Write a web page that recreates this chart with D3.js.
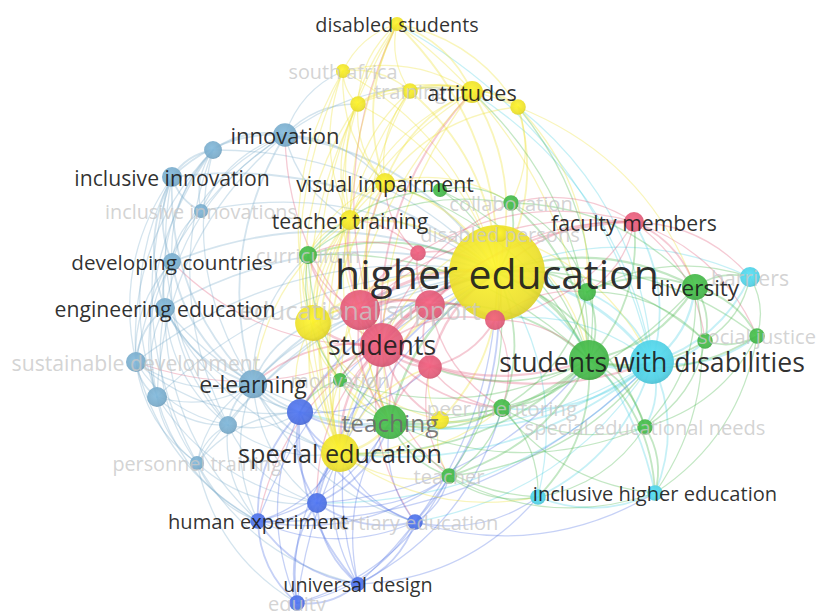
<!DOCTYPE html>
<html>
<head>
<meta charset="utf-8">
<script src="https://cdn.jsdelivr.net/npm/d3@7"></script>
<style>
  html, body { margin: 0; padding: 0; background: #ffffff; }
  svg { display: block; }
  text { font-family: "Open Sans", "Noto Sans", sans-serif; }
</style>
</head>
<body>
<svg id="chart" width="817" height="611"></svg>
<script>
// ---------------- DATA ----------------
const labels = [
  "higher education", "students with disabilities", "", "students", "educational support",
  "", "", "", "", "faculty members",
  "diversity", "teaching", "special education", "e-learning", "",
  "engineering education", "developing countries", "inclusive innovation", "innovation", "",
  "inclusive innovations", "sustainable development", "", "", "personnel training",
  "human experiment", "", "tertiary education", "universal design", "equity",
  "disabled students", "south africa", "training", "attitudes", "",
  "", "visual impairment", "teacher training", "", "",
  "", "collaboration", "curriculum", "motivation", "peer mentoring",
  "special educational needs", "teacher", "social justice", "", "",
  "barriers", "inclusive higher education", "", "disabled persons"
];
// cluster: Y yellow, C cyan, G green, R red, B blue, S steel blue
const clusters = [
  "Y","C","G","R","R", "R","R","R","R","R",
  "G","G","Y","S","B", "S","S","S","S","S",
  "S","S","S","S","S", "B","B","B","B","B",
  "Y","Y","Y","Y","Y", "Y","Y","Y","Y","Y",
  "G","G","G","G","G", "G","G","G","G","G",
  "C","C","C","Y"
];
// layout coordinates (map units)
const coordX = [
  497,652,589,382,360, 430,430,495,418,634,
  695,390,340,253,300, 165,172,172,285,213,
  201,136,157,228,197, 258,317,415,358,297,
  397,343,410,472,518, 358,385,350,313,440,
  440,511,308,340,502, 645,449,757,705,587,
  750,655,538,500
];
const coordY = [
  273,362,360,345,310, 305,367,320,253,222,
  287,422,453,384,412, 308,262,177,135,150,
  211,362,397,425,463, 521,503,522,584,603,
  24,71,91,92,107, 104,183,220,323,420,
  190,203,255,380,408, 427,476,336,341,292,
  277,493,497,234
];
// occurrences
const weights = [
  230,48,40,48,40, 22,14,10,6,10,
  17,29,36,20,17, 10,8,10,14,8,
  5,10,10,8,5, 6,10,6,5,6,
  5,5,6,12,6, 6,10,10,32,8,
  5,6,8,5,8, 6,6,6,6,8,
  10,6,6,6
];
// label emphasis: 0 = highlighted, 1 = medium, 2 = dimmed
const labelEmphasis = [
  0,0,2,0,2, 2,2,2,2,0,
  0,1,0,0,2, 0,0,0,0,2,
  2,2,2,2,2, 0,2,2,0,2,
  0,2,2,0,2, 2,0,0,2,2,
  2,2,2,2,2, 2,2,2,2,2,
  2,0,2,2
];
// co-occurrence links [source, target, strength]
const links = [
  // links to "higher education"
  [1,0,4],[2,0,4],[3,0,5],[4,0,4],[5,0,3],[6,0,3],[7,0,2],[8,0,2],[9,0,2],[10,0,3],
  [11,0,3],[12,0,3],[13,0,2],[14,0,2],[15,0,2],[16,0,2],[17,0,2],[18,0,2],[19,0,1],[20,0,1],
  [21,0,1],[22,0,1],[23,0,1],[24,0,1],[25,0,1],[26,0,2],[27,0,2],[28,0,1],[29,0,1],[30,0,2],
  [31,0,1],[32,0,2],[33,0,2],[34,0,2],[35,0,1],[36,0,2],[37,0,2],[38,0,3],[39,0,2],[40,0,1],
  [41,0,2],[42,0,2],[43,0,1],[44,0,2],[45,0,2],[46,0,1],[47,0,1],[48,0,1],[49,0,2],[50,0,1],
  [51,0,2],[52,0,1],[53,0,1],
  // students
  [3,1,3],[3,2,3],[3,4,4],[3,5,3],[3,6,3],[3,7,2],[3,8,2],[3,9,2],[3,11,3],[3,12,3],
  [3,13,2],[3,14,2],[3,16,1],[3,18,1],[3,26,1],[3,27,1],[3,33,2],[3,36,2],[3,37,2],[3,38,3],
  [3,39,2],[3,41,1],[3,42,2],[3,43,1],[3,44,2],[3,46,1],[3,30,1],[3,21,1],[3,25,1],
  // students with disabilities
  [1,2,4],[1,9,2],[1,10,3],[1,47,2],[1,48,2],[1,49,2],[1,50,2],[1,51,2],[1,52,2],[1,45,2],
  [1,44,2],[1,27,1],[1,12,2],[1,11,2],[1,7,1],[1,34,1],[1,33,1],[1,30,1],[1,14,1],[1,26,1],
  // green hub
  [2,10,3],[2,45,2],[2,47,2],[2,48,2],[2,49,2],[2,51,2],[2,52,2],[2,44,2],[2,11,3],[2,41,2],
  [2,40,1],[2,42,1],[2,43,1],[2,46,2],[2,12,2],[2,5,2],[2,6,2],[2,9,2],[2,33,1],[2,34,1],[2,36,1],
  // steel cluster
  [18,19,2],[18,17,2],[18,20,1],[18,16,1],[18,15,1],[18,13,2],[18,36,1],[18,37,1],[18,35,1],[18,31,1],
  [18,33,1],[18,21,1],[18,22,1],[19,17,2],[19,20,1],[19,16,1],[19,15,1],[19,13,1],[19,21,1],[19,22,1],
  [19,23,1],[17,20,2],[17,16,2],[17,15,2],[17,13,2],[17,21,1],[17,22,1],[17,23,1],[17,24,1],[16,15,2],
  [16,13,2],[16,21,1],[16,22,1],[16,23,1],[16,20,1],[15,13,2],[15,21,2],[15,22,1],[15,23,1],[15,24,1],
  [15,25,1],[15,12,1],[15,11,1],[15,14,1],[21,22,2],[21,23,1],[21,24,1],[21,13,1],[21,25,1],[21,14,1],
  [22,23,1],[22,24,1],[22,13,1],[22,25,1],[22,26,1],[23,24,1],[23,13,2],[23,14,1],[23,25,1],[23,26,1],
  [23,12,1],[24,25,1],[24,26,1],[24,14,1],[24,13,1],[24,29,1],[24,28,1],[13,14,2],[13,12,2],[13,11,2],
  [13,5,1],[13,26,1],[13,25,1],[13,27,1],[13,38,2],[13,42,1],
  // blue cluster
  [14,26,2],[14,25,2],[14,27,2],[14,28,2],[14,29,1],[14,12,2],[14,11,2],[14,6,1],[26,25,2],[26,27,2],
  [26,28,2],[26,29,2],[26,12,2],[26,11,2],[26,46,1],[25,27,1],[25,28,2],[25,29,2],[25,12,1],[25,11,1],
  [27,28,2],[27,29,1],[27,46,1],[27,11,1],[27,12,1],[27,52,1],[27,51,1],[28,29,2],[28,12,1],[28,11,1],
  [28,3,1],[29,12,1],[25,1,1],[26,2,1],[14,1,1],[28,52,1],[29,27,1],[28,44,1],[25,46,1],[29,46,1],
  // yellow cluster
  [30,31,1],[30,32,1],[30,33,2],[30,34,1],[30,35,1],[30,36,2],[30,37,1],[30,11,1],[30,12,1],[30,2,1],
  [31,32,1],[31,33,1],[31,35,1],[31,36,1],[31,37,1],[31,38,1],[31,12,1],[32,33,2],[32,34,1],[32,35,1],
  [32,36,1],[32,37,1],[32,12,1],[32,3,1],[33,34,2],[33,35,1],[33,36,2],[33,37,1],[33,12,1],[33,38,1],
  [33,11,1],[34,35,1],[34,36,1],[34,41,1],[34,10,1],[34,49,1],[35,36,1],[35,37,1],[35,38,1],[35,12,1],
  [35,3,1],[36,37,2],[36,38,1],[36,40,1],[36,41,1],[36,42,1],[36,12,2],[36,11,1],[37,38,2],[37,42,1],
  [37,12,2],[37,11,1],[37,4,1],[37,13,1],[38,12,2],[38,11,2],[38,4,2],[38,5,2],[38,14,1],[38,39,1],
  [38,42,1],[38,43,1],[12,11,3],[12,4,2],[12,5,2],[12,6,2],[12,39,1],[12,43,1],[12,44,1],[12,46,1],
  [12,27,1],[12,28,1],[12,52,1],[39,11,1],[39,44,1],[39,46,1],[39,6,1],[53,3,1],[53,2,1],[53,1,1],
  // red cluster
  [4,5,3],[4,6,2],[4,7,2],[4,8,2],[4,9,1],[4,11,2],[4,42,1],[5,6,2],[5,7,2],[5,8,2],
  [5,9,1],[5,11,2],[5,44,1],[6,7,2],[6,11,2],[6,44,1],[6,46,1],[7,2,1],[7,9,1],[7,49,1],
  [7,44,1],[8,9,1],[8,42,1],[8,36,1],[8,37,1],[9,10,2],[9,49,1],[9,41,1],[9,50,1],[9,2,2],
  [9,47,1],[9,48,1],[9,3,1],[9,5,1],
  // green cluster
  [10,48,2],[10,47,2],[10,49,2],[10,50,2],[10,41,1],[10,45,1],[10,51,1],[10,1,2],[11,43,1],[11,44,2],
  [11,46,2],[11,42,1],[11,45,1],[11,10,1],[11,52,1],[41,40,1],[41,49,1],[41,42,1],[40,42,1],[42,43,1],
  [43,44,1],[43,14,1],[44,45,1],[44,46,1],[44,49,1],[44,52,1],[44,51,1],[45,51,2],[45,52,1],[45,48,1],
  [45,47,1],[46,52,1],[46,51,1],[46,1,1],[47,48,2],[47,50,1],[47,51,1],[48,50,1],[49,48,1],[49,50,1],
  // cyan cluster
  [50,1,2],[50,48,1],[51,52,2],[51,1,2],[51,2,1],[52,1,2],[52,2,1],[52,11,1],[52,12,1],[52,44,1]
];

// ---------------- STYLE ----------------
const palette = {
  Y: "#ece02a",
  C: "#4fcfe3",
  G: "#44b548",
  R: "#e05b78",
  B: "#4d70e2",
  S: "#79abca"
};

const W = 817, H = 611;
const svg = d3.select("#chart");

const x = d3.scaleLinear().domain([0, 817]).range([0, W]);
const y = d3.scaleLinear().domain([0, 611]).range([0, H]);
const rScale = d3.scaleSqrt().domain([0, 230]).range([0, 48]);
const fontScale = d3.scaleLinear().domain([7, 22, 48]).range([19.8, 26.6, 41]).clamp(true);
const widthScale = d3.scaleLinear().domain([1, 5]).range([1.3, 3.4]);

const nodes = labels.map((lab, i) => ({
  id: i, label: lab, cluster: clusters[i],
  x: x(coordX[i]), y: y(coordY[i]),
  r: rScale(weights[i]), emph: labelEmphasis[i]
}));

// dedupe links
const seen = new Set();
const linkData = [];
links.forEach(([s, t, w]) => {
  const k = s < t ? s + "-" + t : t + "-" + s;
  if (seen.has(k) || s === t) return;
  seen.add(k);
  linkData.push({ s: nodes[s], t: nodes[t], w });
});

const cx0 = x(470), cy0 = y(330);
function curvePath(d) {
  const x1 = d.s.x, y1 = d.s.y, x2 = d.t.x, y2 = d.t.y;
  const dx = x2 - x1, dy = y2 - y1;
  const len = Math.sqrt(dx * dx + dy * dy) || 1;
  const mx = (x1 + x2) / 2, my = (y1 + y2) / 2;
  const px = -dy / len, py = dx / len;
  const off = 0.22 * len;
  const c1x = mx + px * off, c1y = my + py * off;
  const c2x = mx - px * off, c2y = my - py * off;
  const d1 = (c1x - cx0) ** 2 + (c1y - cy0) ** 2;
  const d2 = (c2x - cx0) ** 2 + (c2y - cy0) ** 2;
  const [qx, qy] = d1 >= d2 ? [c1x, c1y] : [c2x, c2y];
  return `M${x1},${y1}Q${qx},${qy} ${x2},${y2}`;
}

// edges
svg.append("g")
  .attr("fill", "none")
  .selectAll("path")
  .data(linkData)
  .join("path")
  .attr("d", curvePath)
  .attr("stroke", d => palette[d.s.cluster])
  .attr("stroke-opacity", 0.32)
  .attr("stroke-width", d => widthScale(d.w))
  .attr("stroke-linecap", "round");

// gradients for nodes
const defs = svg.append("defs");
Object.entries(palette).forEach(([k, c]) => {
  const g = defs.append("radialGradient").attr("id", "grad-" + k)
    .attr("cx", "45%").attr("cy", "42%").attr("r", "60%");
  g.append("stop").attr("offset", "0%").attr("stop-color", d3.color(c).brighter(0.25));
  g.append("stop").attr("offset", "80%").attr("stop-color", c);
  g.append("stop").attr("offset", "100%").attr("stop-color", d3.color(c).darker(0.25));
});

// nodes (large first, small on top)
const order = nodes.slice().sort((a, b) => b.r - a.r);
svg.append("g")
  .selectAll("circle")
  .data(order)
  .join("circle")
  .attr("cx", d => d.x)
  .attr("cy", d => d.y)
  .attr("r", d => d.r)
  .attr("fill", d => `url(#grad-${d.cluster})`)
  .attr("fill-opacity", 0.92);

// labels: dimmed first, then emphasized
const labelNodes = nodes.filter(d => d.label !== "")
  .sort((a, b) => b.emph - a.emph || a.r - b.r);
const toneFill = ["#1c1c1c", "#6a6a6a", "#c8c8c8"];
const toneOpacity = [0.92, 0.9, 0.8];
svg.append("g")
  .selectAll("text")
  .data(labelNodes)
  .join("text")
  .attr("x", d => d.x)
  .attr("y", d => d.y)
  .attr("text-anchor", "middle")
  .attr("dominant-baseline", "central")
  .attr("font-size", d => fontScale(d.r).toFixed(1) + "px")
  .attr("fill", d => toneFill[d.emph])
  .attr("fill-opacity", d => toneOpacity[d.emph])
  .text(d => d.label);
</script>
</body>
</html>
